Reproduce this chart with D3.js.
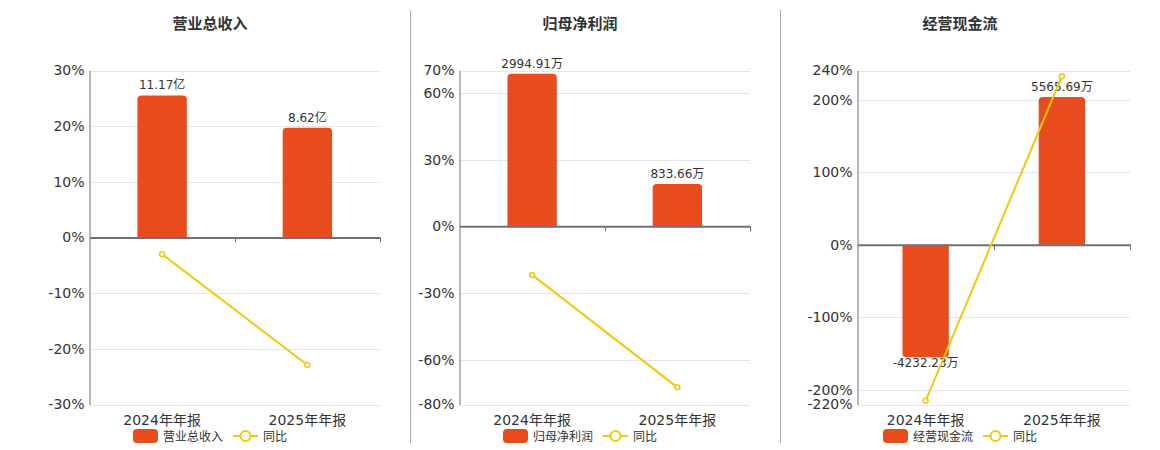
<!DOCTYPE html>
<html>
<head>
<meta charset="utf-8">
<script src="https://cdn.jsdelivr.net/npm/d3@7"></script>
<style>
  body { margin: 0; background: #fff; }
  svg { font-family: "DejaVu Sans", "Noto Sans CJK SC", sans-serif; }
</style>
</head>
<body>
<svg id="chart" width="1160" height="450"></svg>
<script>
// ---- data ----
const categories = ["2024年年报", "2025年年报"];

const titles = ["营业总收入", "归母净利润", "经营现金流"];

const barValues = [
    [11.17, 8.62],
    [2994.91, 833.66],
    [-4232.23, 5565.69]
];
const barLabels = [
    ["11.17亿", "8.62亿"],
    ["2994.91万", "833.66万"],
    ["-4232.23万", "5565.69万"]
];
// hidden secondary axis for the bars: value that sits at the top of the plot
const barAxisTop = [13.13, 3060, 6560];

const yoyValues = [
    [-3.0, -22.9],
    [-21.8, -72.3],
    [-215, 232]
];

const pctDomains = [
    [-30, 30],
    [-80, 70],
    [-220, 240]
];
const pctTicks = [
    [-30, -20, -10, 0, 10, 20, 30],
    [-80, -60, -30, 0, 30, 60, 70],
    [-220, -200, -100, 0, 100, 200, 240]
];

// ---- layout ----
const barColor = "#e84c1d";
const lineColor = "#f2c80f";
const axisColor = "#6e7079";
const gridColor = "#e0e6f1";
const textColor = "#333";

const panels = [
    {x0: 89.5, x1: 380, cx: 210},
    {x0: 459.5, x1: 750, cx: 580},
    {x0: 857.5, x1: 1130, cx: 960}
];
const plotTop = 70.5, plotBottom = 404.5;

const svg = d3.select("#chart");

// dividers
[410.5, 780.5].forEach(x => {
    svg.append("line")
        .attr("x1", x).attr("x2", x)
        .attr("y1", 10).attr("y2", 443)
        .attr("stroke", "#aaa").attr("stroke-width", 1);
});

function barPath(x, w, y0, y1, r) {
    // rounded corners on the end away from zero
    const h = Math.abs(y1 - y0);
    r = Math.min(r, h / 2, w / 2);
    if (y1 < y0) {
        return `M${x},${y0} L${x},${y1 + r} Q${x},${y1} ${x + r},${y1} L${x + w - r},${y1} Q${x + w},${y1} ${x + w},${y1 + r} L${x + w},${y0} Z`;
    }
    return `M${x},${y0} L${x},${y1 - r} Q${x},${y1} ${x + r},${y1} L${x + w - r},${y1} Q${x + w},${y1} ${x + w},${y1 - r} L${x + w},${y0} Z`;
}

panels.forEach((p, i) => {
    const g = svg.append("g");

    const y = d3.scaleLinear().domain(pctDomains[i]).range([plotBottom, plotTop]);
    const zeroY = y(0);
    // bar scale shares the zero line with the percent axis
    const yBar = d3.scaleLinear().domain([0, barAxisTop[i]]).range([zeroY, plotTop]);

    const x = d3.scaleBand().domain(categories).range([p.x0, p.x1]).padding(0);
    const bw = x.bandwidth() * 0.34;

    // title
    g.append("text")
        .attr("x", p.cx)
        .attr("y", 29)
        .attr("text-anchor", "middle")
        .attr("font-size", 15).attr("font-weight", "bold")
        .attr("fill", textColor)
        .text(titles[i]);

    // grid lines
    g.selectAll(".grid")
        .data(pctTicks[i].filter(t => t !== 0))
        .join("line")
        .attr("x1", p.x0).attr("x2", p.x1)
        .attr("y1", d => Math.round(y(d)) + 0.5).attr("y2", d => Math.round(y(d)) + 0.5)
        .attr("stroke", gridColor);

    // y axis
    const yAxis = d3.axisLeft(y).tickValues(pctTicks[i]).tickSize(0).tickPadding(5)
        .tickFormat(d => d + "%");
    const ya = g.append("g").attr("transform", `translate(${p.x0},0)`).call(yAxis);
    ya.select(".domain").attr("stroke", axisColor);
    ya.selectAll("text").attr("font-size", 14).attr("fill", textColor)
        .attr("font-family", "DejaVu Sans, sans-serif");

    // bars
    g.selectAll(".bar")
        .data(barValues[i])
        .join("path")
        .attr("fill", barColor)
        .attr("d", (d, j) => barPath(x(categories[j]) + (x.bandwidth() - bw) / 2, bw, zeroY, yBar(d), 4));

    // bar labels
    g.selectAll(".blabel")
        .data(barValues[i])
        .join("text")
        .attr("x", (d, j) => x(categories[j]) + x.bandwidth() / 2)
        .attr("y", d => d >= 0 ? yBar(d) - 6 : yBar(d) + 10)
        .attr("text-anchor", "middle")
        .attr("font-size", 12).attr("fill", textColor)
        .text((d, j) => barLabels[i][j]);

    // zero line with category ticks
    const xa = g.append("g").attr("transform", `translate(0,${zeroY})`)
        .call(d3.axisBottom(x).tickSize(0).tickFormat(""));
    xa.select(".domain").attr("stroke", axisColor).attr("stroke-width", 2);
    [p.x0 + x.bandwidth(), p.x1].forEach(tx => {
        g.append("line")
            .attr("x1", Math.round(tx) + 0.5).attr("x2", Math.round(tx) + 0.5)
            .attr("y1", zeroY).attr("y2", zeroY + 5)
            .attr("stroke", axisColor);
    });

    // category labels
    g.selectAll(".clabel")
        .data(categories)
        .join("text")
        .attr("x", d => x(d) + x.bandwidth() / 2)
        .attr("y", 425)
        .attr("text-anchor", "middle")
        .attr("font-size", 14).attr("fill", textColor)
        .text(d => d);

    // yoy line
    const line = d3.line()
        .x((d, j) => x(categories[j]) + x.bandwidth() / 2)
        .y(d => y(d));
    g.append("path")
        .datum(yoyValues[i])
        .attr("d", line)
        .attr("fill", "none")
        .attr("stroke", lineColor).attr("stroke-width", 2);
    g.selectAll(".pt")
        .data(yoyValues[i])
        .join("circle")
        .attr("cx", (d, j) => x(categories[j]) + x.bandwidth() / 2)
        .attr("cy", d => y(d))
        .attr("r", 2.5)
        .attr("fill", "#fff")
        .attr("stroke", lineColor).attr("stroke-width", 1.5);

    // legend, centred under the title
    const leg = g.append("g").attr("transform", `translate(${p.cx - 77},436)`);
    leg.append("rect")
        .attr("x", 0).attr("y", -7).attr("width", 25).attr("height", 14)
        .attr("rx", 4).attr("fill", barColor);
    leg.append("text")
        .attr("x", 30).attr("y", 4.5)
        .attr("font-size", 12).attr("fill", textColor)
        .text(titles[i]);
    leg.append("line")
        .attr("x1", 100).attr("x2", 125).attr("y1", 0).attr("y2", 0)
        .attr("stroke", lineColor).attr("stroke-width", 2);
    leg.append("circle")
        .attr("cx", 112.5).attr("cy", 0).attr("r", 5)
        .attr("fill", "#fff").attr("stroke", lineColor).attr("stroke-width", 2);
    leg.append("text")
        .attr("x", 130).attr("y", 4.5)
        .attr("font-size", 12).attr("fill", textColor)
        .text("同比");
});
</script>
</body>
</html>
